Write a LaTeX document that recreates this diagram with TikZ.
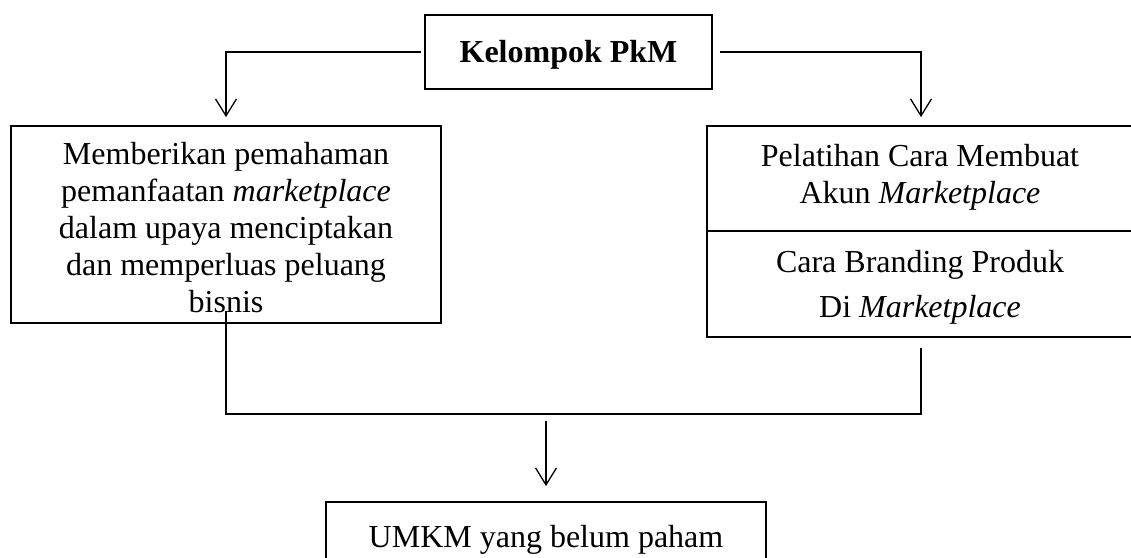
\documentclass[tikz,border=0pt]{standalone}
\usepackage{fontspec}
\setmainfont{Liberation Serif}
\usetikzlibrary{arrows.meta}
\begin{document}
\begin{tikzpicture}[x=1pt,y=-1pt,
  box/.style={draw, line width=1.8pt, inner sep=0pt},
  txt/.style={align=center, inner sep=0pt, font=\fontsize{32}{37}\selectfont},
  conn/.style={line width=1.5pt},
  arr/.style={conn, -{Straight Barb[length=17pt,width=21pt,line width=1.3pt]}}]
\useasboundingbox (0,0) rectangle (1131,557);
\clip (0,0) rectangle (1131,557);
% boxes
\node[box, minimum width=287pt, minimum height=74pt] (top) at (568.5,52) {};
\node[box, minimum width=430pt, minimum height=197pt] (left) at (226,224.5) {};
\node[box, minimum width=428pt, minimum height=105pt] (r1) at (921,178.5) {};
\node[box, minimum width=428pt, minimum height=106pt] (r2) at (921,284) {};
\node[box, minimum width=440pt, minimum height=98pt] (bot) at (546,551) {};
% texts
\node[txt] (toptxt) at (568.5,54.7) {\bfseries Kelompok PkM};
\node[txt] (lefttxt) at (226,228) {Memberikan pemahaman\\ pemanfaatan \textit{marketplace}\\ dalam upaya menciptakan\\ dan memperluas peluang\\ bisnis};
\node[txt] (r1txt) at (920,177) {Pelatihan Cara Membuat\\ Akun \textit{Marketplace}};
\node[txt, font=\fontsize{32}{45}\selectfont] (r2txt) at (920,287) {Cara Branding Produk\\ Di \textit{Marketplace}};
\node[txt] (bottxt) at (546,539.7) {UMKM yang belum paham};
% connectors
\coordinate (jl) at (225,414);
\coordinate (jm) at (546,414);
\draw[arr, shorten <=3pt, shorten >=8pt] (top.west) -| (left.north);
\draw[arr, shorten <=7pt, shorten >=8pt] (top.east) -| (r1.north);
\draw[conn] ([yshift=13pt]left.south) -- (left.south |- jl) -- (r2.south |- jl) -- ([yshift=-10pt]r2.south);
\draw[arr, shorten <=7pt, shorten >=15pt] (jm) -- (bot.north);
\end{tikzpicture}
\end{document}
